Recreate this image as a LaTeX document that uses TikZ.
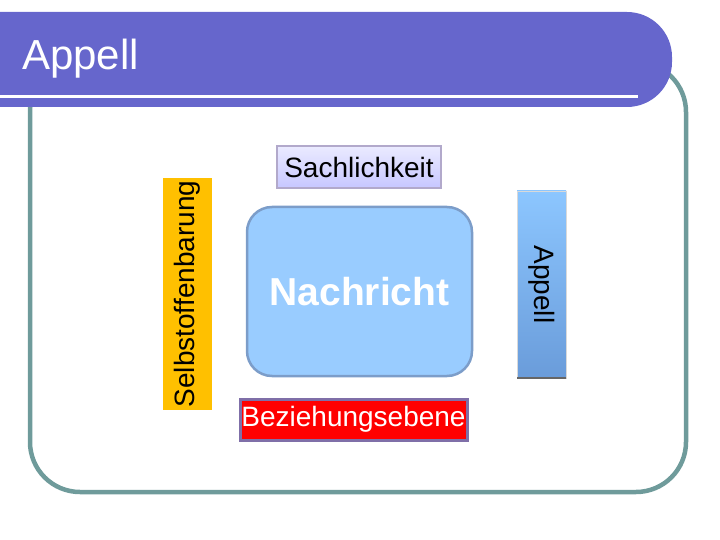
\documentclass[tikz,border=0pt]{standalone}
\usepackage{fontspec}
\setmainfont{Liberation Sans}
\usepackage{tikz}
\usetikzlibrary{positioning}

\definecolor{barblue}{HTML}{6666CC}
\definecolor{frameteal}{HTML}{6F9B9B}
\definecolor{selbstorange}{HTML}{FFC000}
\definecolor{nachfill}{HTML}{99CCFF}
\definecolor{nachedge}{HTML}{7C9DC9}
\definecolor{bezedge}{HTML}{7F6FA8}
\definecolor{appelltop}{HTML}{8CC6FF}
\definecolor{appellbot}{HTML}{6A9CDA}

\begin{document}
\begin{tikzpicture}[x=1pt, y=-1pt,
    side/.style={inner sep=0pt, align=center, font=\fontsize{28}{32}\selectfont},
    msg/.style={draw=nachedge, line width=2.5pt, fill=nachfill, rounded corners=25pt,
                minimum width=225pt, minimum height=169pt, text=white,
                font=\fontsize{39}{44}\selectfont\bfseries}
]
\useasboundingbox (0,0) rectangle (720,540);

% frame and title bar
\draw[frameteal, line width=4.5pt, rounded corners=50pt] (30,62) rectangle (686,492);
\fill[barblue] (0,12) [rounded corners=45pt] -- (672,12) -- (672,107) [sharp corners] -- (0,107) -- cycle;
\draw[white, line width=3pt] (0,97) -- (638,97);
\node[anchor=west, text=white, inner sep=0pt, font=\fontsize{42}{48}\selectfont] (title) at (22,59) {Appell};

% the four sides of the message
\node[msg] (nachricht) at (359.5,291.5) {Nachricht};

\node[side, draw=bezedge, line width=3pt, fill=red, text=white,
      minimum width=227pt, minimum height=41pt] (bez) at (353.5,419.5) {Beziehungsebene};

\node[side, draw=bezedge!60, line width=1.5pt, top color=blue!8, bottom color=blue!22,
      minimum width=164pt, minimum height=42pt] (sach) at (359,167) {Sachlichkeit};

\node[side, fill=selbstorange, rotate=90,
      minimum width=232pt, minimum height=49pt] (selbst) at (187.5,294) {Selbstoffenbarung};

\node[side, draw=white!85!black, line width=0.8pt, rotate=-90,
      top color=appelltop, bottom color=appellbot,
      minimum width=187pt, minimum height=49pt] (appell) at (541.5,284.5) {Appell};
\draw[black!60, line width=2pt] (appell.north east) -- (appell.south east);
\end{tikzpicture}
\end{document}
